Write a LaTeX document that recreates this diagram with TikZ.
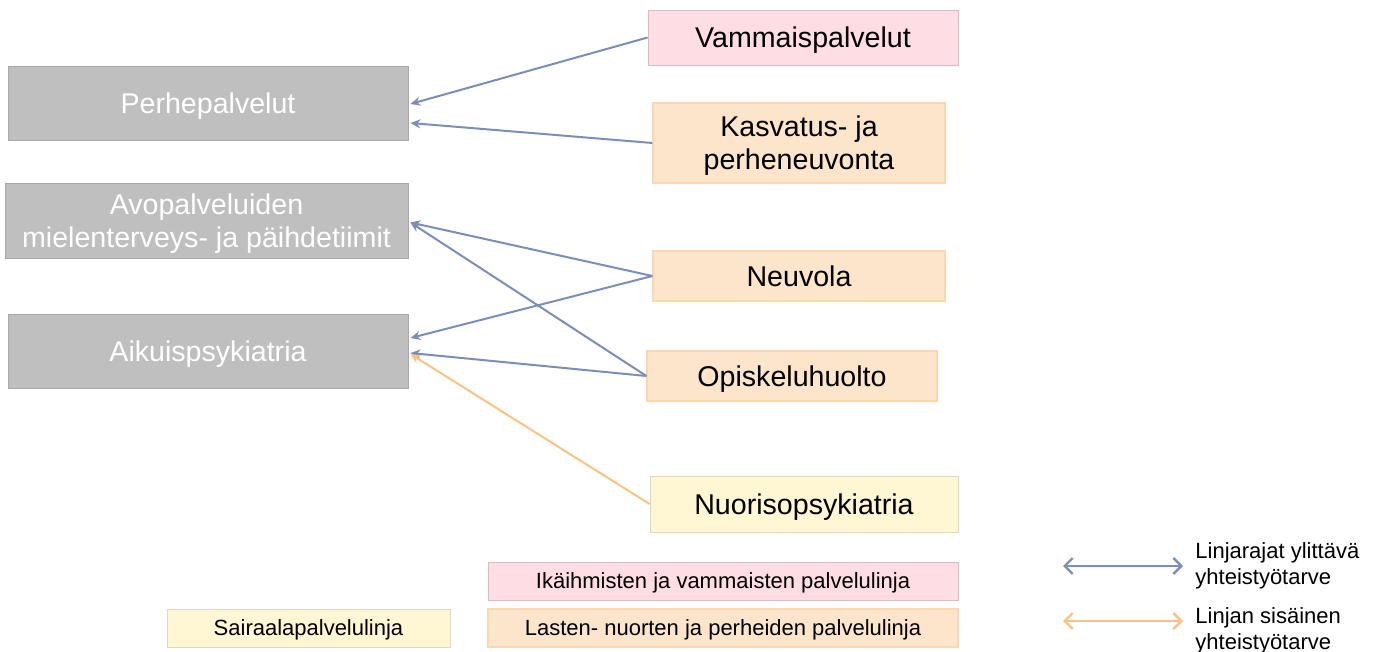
\documentclass[tikz,border=0pt]{standalone}
\usepackage{fontspec}
\setmainfont{Liberation Sans}
\usepackage{tikz}
\usetikzlibrary{arrows.meta,calc,positioning}
\definecolor{lineblue}{RGB}{125,141,187}
\definecolor{lineorange}{RGB}{250,195,130}
\definecolor{grayfill}{RGB}{191,191,191}
\definecolor{pinkfill}{RGB}{255,221,228}
\definecolor{peachfill}{RGB}{253,229,204}
\definecolor{yellowfill}{RGB}{255,246,212}
\tikzset{
  unit/.style = {rectangle, inner sep=0pt, align=center, text depth=0pt, font=\fontsize{14.3}{16.5}\selectfont},
  grayunit/.style = {unit, fill=grayfill, draw=grayfill!88!black, line width=0.4pt, text=white},
  pinkunit/.style = {unit, fill=pinkfill, draw=pinkfill!85!black, line width=0.4pt},
  peachunit/.style = {unit, fill=peachfill, draw=peachfill!85!orange, line width=0.6pt},
  yellowunit/.style = {unit, fill=yellowfill, draw=yellowfill!88!black, line width=0.4pt},
  legendbox/.style = {font=\fontsize{11}{13}\selectfont},
  cross/.style = {draw=lineblue, line width=1pt, -{Stealth[length=5pt,width=4.5pt]}},
  inner/.style = {draw=lineorange, line width=1pt, -{Stealth[length=5pt,width=4.5pt]}},
  keyarrow/.style = {line width=1.2pt, {Straight Barb[length=4pt,width=8pt]}-{Straight Barb[length=4pt,width=8pt]}}
}
\begin{document}
\begin{tikzpicture}[x=0.5pt,y=-0.5pt]
  \useasboundingbox (0,0) rectangle (1379,652);
  % left column
  \node[grayunit, minimum width=200pt, minimum height=37pt] (perhe) at (208,103) {Perhepalvelut};
  \node[grayunit, minimum width=201.5pt, minimum height=37.5pt] (avo) at (206.5,220.5) {Avopalveluiden\\mielenterveys- ja päihdetiimit};
  \node[grayunit, minimum width=200pt, minimum height=37pt] (aikuis) at (208,351) {Aikuispsykiatria};
  % right column
  \node[pinkunit, minimum width=155pt, minimum height=27.5pt] (vamma) at (803,37.5) {Vammaispalvelut};
  \node[peachunit, minimum width=146pt, minimum height=40pt] (kasvatus) at (799,143) {Kasvatus- ja\\perheneuvonta};
  \node[peachunit, minimum width=146pt, minimum height=25pt] (neuvola) at (799,276) {Neuvola};
  \node[peachunit, minimum width=145pt, minimum height=25pt] (opisk) at (792,376) {Opiskeluhuolto};
  \node[yellowunit, minimum width=154pt, minimum height=28pt] (nuoriso) at (804,504) {Nuorisopsykiatria};
  % legend
  \node[pinkunit, legendbox, minimum width=235pt, minimum height=19pt] (ika) at (723,581) {Ikäihmisten ja vammaisten palvelulinja};
  \node[yellowunit, legendbox, minimum width=141.5pt, minimum height=19pt] (sairaala) at (308.5,628) {Sairaalapalvelulinja};
  \node[peachunit, legendbox, minimum width=235pt, minimum height=19pt] (lasten) at (723,628) {Lasten- nuorten ja perheiden palvelulinja};
  \coordinate (k1a) at (1063,566);
  \coordinate (k1b) at (1183,566);
  \coordinate (k2a) at (1063,621);
  \coordinate (k2b) at (1183,621);
  \draw[keyarrow, draw=lineblue] (k1a) -- (k1b);
  \draw[keyarrow, draw=lineorange] (k2a) -- (k2b);
  \node[legendbox, anchor=west, align=left, inner sep=0pt] (key1) at (1195,566) {Linjarajat ylittävä\\yhteistyötarve};
  \node[legendbox, anchor=west, align=left, inner sep=0pt] (key2) at (1195,631) {Linjan sisäinen\\yhteistyötarve};
  % arrow ends
  \coordinate (perhe-a) at ($(perhe.east)+(2,1)$);
  \coordinate (perhe-b) at ($(perhe.east)+(2,20)$);
  \coordinate (avo-a) at ($(avo.east)+(2,2)$);
  \coordinate (aikuis-a) at ($(aikuis.east)+(2,-13)$);
  \coordinate (aikuis-b) at ($(aikuis.east)+(2,2)$);
  \coordinate (aikuis-c) at ($(aikuis.east)+(2,3)$);
  \draw[cross] (vamma.west) -- (perhe-a);
  \draw[cross] (kasvatus.west) -- (perhe-b);
  \draw[cross] (neuvola.west) -- (avo-a);
  \draw[cross] (neuvola.west) -- (aikuis-a);
  \draw[cross] (opisk.west) -- (avo-a);
  \draw[cross] (opisk.west) -- (aikuis-b);
  \draw[inner] (nuoriso.west) -- (aikuis-c);
\end{tikzpicture}
\end{document}
